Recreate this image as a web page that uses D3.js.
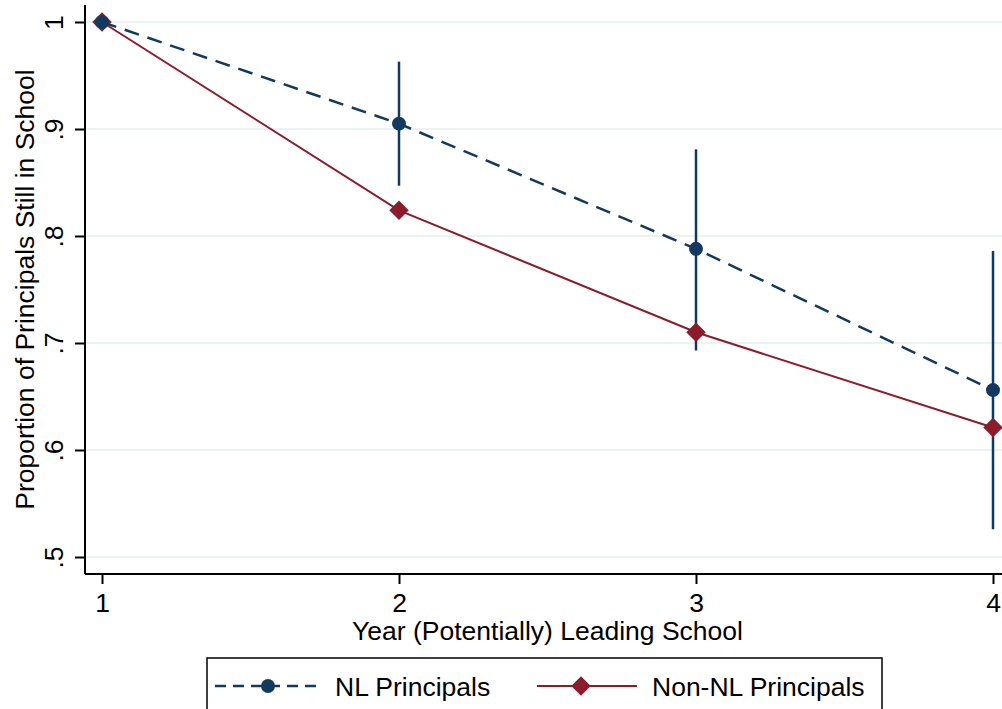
<!DOCTYPE html>
<html>
<head>
<meta charset="utf-8">
<script src="https://cdn.jsdelivr.net/npm/d3@7"></script>
<style>
  body { margin: 0; background: #fff; }
  text { font-family: "Liberation Sans", Arial, Helvetica, sans-serif; fill: #000; }
</style>
</head>
<body>
<div id="chart"></div>
<script>
const years = [1, 2, 3, 4];
const nlMean = [1.0, 0.905, 0.788, 0.656];
const nlLow = [null, 0.847, 0.693, 0.526];
const nlHigh = [null, 0.963, 0.881, 0.786];
const nonNlMean = [1.0, 0.824, 0.710, 0.621];
const yTicks = [0.5, 0.6, 0.7, 0.8, 0.9, 1];
const yTickLabels = ['.5', '.6', '.7', '.8', '.9', '1'];

const width = 1002;
const height = 709;
const navy = '#12395f';
const maroon = '#8c1c2b';
const fs = 26.5;

const svg = d3.select('#chart')
  .append('svg')
  .attr('width', width)
  .attr('height', height);

const x = d3.scaleLinear().domain([1, 4]).range([102, 993]);
const y = d3.scaleLinear().domain([0.5, 1]).range([557, 22]);

const plot = { left: 85, right: 1002, top: 5, bottom: 574 };

// gridlines
svg.append('g')
  .selectAll('line')
  .data(yTicks)
  .join('line')
    .attr('x1', plot.left)
    .attr('x2', plot.right)
    .attr('y1', d => y(d))
    .attr('y2', d => y(d))
    .attr('stroke', '#eaf2f3')
    .attr('stroke-width', 2);

// axes
const yAxis = svg.append('g')
  .attr('transform', `translate(${plot.left},0)`)
  .call(d3.axisLeft(y).tickValues(yTicks).tickFormat((d, i) => yTickLabels[i]).tickSize(10).tickSizeOuter(0));
yAxis.select('.domain').attr('d', `M0,${plot.top}V${plot.bottom}`).attr('stroke-width', 2);
yAxis.selectAll('.tick line').attr('stroke-width', 2);
yAxis.selectAll('.tick text')
  .attr('font-size', fs)
  .attr('x', 0)
  .attr('dy', 0)
  .attr('text-anchor', 'middle')
  .attr('transform', 'translate(-22,0) rotate(-90)');

const xAxis = svg.append('g')
  .attr('transform', `translate(0,${plot.bottom})`)
  .call(d3.axisBottom(x).tickValues(years).tickFormat(d3.format('d')).tickSize(10).tickSizeOuter(0));
xAxis.select('.domain').attr('d', `M${plot.left},0H${plot.right}`).attr('stroke-width', 2);
xAxis.selectAll('.tick line').attr('stroke-width', 2);
xAxis.selectAll('.tick text')
  .attr('font-size', fs)
  .attr('y', 38)
  .attr('dy', 0);

// axis titles
svg.append('text')
  .attr('x', (plot.left + plot.right) / 2 + 4)
  .attr('y', 640)
  .attr('text-anchor', 'middle')
  .attr('font-size', fs)
  .text('Year (Potentially) Leading School');

svg.append('text')
  .attr('transform', `translate(34,${(plot.top + plot.bottom) / 2}) rotate(-90)`)
  .attr('text-anchor', 'middle')
  .attr('font-size', fs)
  .text('Proportion of Principals Still in School');

// error bars
svg.append('g')
  .selectAll('line')
  .data(years.map((d, i) => ({ yr: d, lo: nlLow[i], hi: nlHigh[i] })).filter(d => d.lo !== null))
  .join('line')
    .attr('x1', d => x(d.yr))
    .attr('x2', d => x(d.yr))
    .attr('y1', d => y(d.lo))
    .attr('y2', d => y(d.hi))
    .attr('stroke', navy)
    .attr('stroke-width', 2.5);

const line = d3.line().x((d, i) => x(years[i])).y(d => y(d));

svg.append('path')
  .datum(nonNlMean)
  .attr('d', line)
  .attr('fill', 'none')
  .attr('stroke', maroon)
  .attr('stroke-width', 2);

svg.append('path')
  .datum(nlMean)
  .attr('d', line)
  .attr('fill', 'none')
  .attr('stroke', navy)
  .attr('stroke-width', 2.5)
  .attr('stroke-dasharray', '15,9');

const diamond = d3.symbol().type(d3.symbolSquare).size(190);

svg.append('g')
  .selectAll('path')
  .data(nonNlMean)
  .join('path')
    .attr('d', diamond)
    .attr('transform', (d, i) => `translate(${x(years[i])},${y(d)}) rotate(45)`)
    .attr('fill', maroon);

svg.append('g')
  .selectAll('circle')
  .data(nlMean)
  .join('circle')
    .attr('cx', (d, i) => x(years[i]))
    .attr('cy', d => y(d))
    .attr('r', 7)
    .attr('fill', navy);

// legend
const legend = svg.append('g');
legend.append('rect')
  .attr('x', 207).attr('y', 658)
  .attr('width', 675).attr('height', 70)
  .attr('fill', '#fff')
  .attr('stroke', '#000')
  .attr('stroke-width', 1.5);

legend.append('line')
  .attr('x1', 215).attr('x2', 322).attr('y1', 686).attr('y2', 686)
  .attr('stroke', navy).attr('stroke-width', 2.5)
  .attr('stroke-dasharray', '11,7');
legend.append('circle')
  .attr('cx', 268).attr('cy', 686).attr('r', 7).attr('fill', navy);
legend.append('text')
  .attr('x', 335).attr('y', 696).attr('font-size', fs)
  .text('NL Principals');

legend.append('line')
  .attr('x1', 537).attr('x2', 637).attr('y1', 686).attr('y2', 686)
  .attr('stroke', maroon).attr('stroke-width', 2);
legend.append('path')
  .attr('d', diamond)
  .attr('transform', 'translate(581,686) rotate(45)')
  .attr('fill', maroon);
legend.append('text')
  .attr('x', 652).attr('y', 696).attr('font-size', fs)
  .text('Non-NL Principals');
</script>
</body>
</html>
